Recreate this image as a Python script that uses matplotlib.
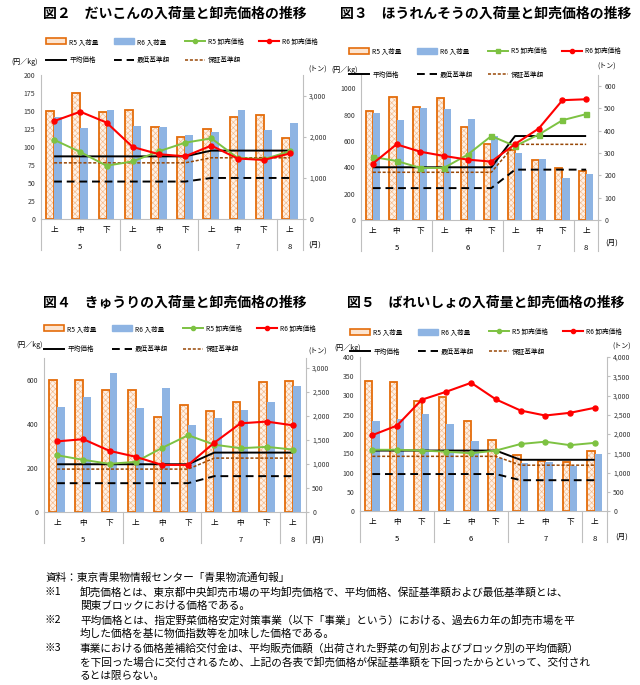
import matplotlib
matplotlib.use('Agg')
import matplotlib.pyplot as plt
from matplotlib.lines import Line2D
from matplotlib.patches import Patch
import matplotlib.transforms as mtransforms
from matplotlib.ticker import FuncFormatter, MultipleLocator

plt.rcParams['font.family'] = ['Noto Sans CJK JP', 'DejaVu Sans']
plt.rcParams['hatch.linewidth'] = 0.45

# ---------------- data ----------------
categories = ['上', '中', '下', '上', '中', '下', '上', '中', '下', '上']
months = ['5', '6', '7', '8']
month_centers = [1, 4, 7, 9]
month_bounds = [-0.5, 2.5, 5.5, 8.5, 9.5]

legend_labels = ['R5 入荷量', 'R6 入荷量', 'R5 卸売価格', 'R6 卸売価格',
                 '平均価格', '最低基準額', '保証基準額']

# 図2 だいこん
daikon_r5_vol = [2616, 3059, 2590, 2643, 2233, 2004, 2184, 2478, 2538, 1971]
daikon_r6_vol = [2485, 2205, 2660, 2258, 2233, 2044, 2126, 2660, 2153, 2328]
daikon_r5_price = [110, 93, 74, 80, 94, 106, 112, 85, 83, 94]
daikon_r6_price = [136, 149, 134, 100, 90, 87, 102, 84, 82, 91]
daikon_avg = [87, 87, 87, 87, 87, 87, 95, 95, 95, 95]
daikon_min = [52, 52, 52, 52, 52, 52, 57, 57, 57, 57]
daikon_guar = [78, 78, 78, 78, 78, 78, 85, 85, 85, 85]

# 図3 ほうれんそう
spin_r5_vol = [489, 552, 505, 549, 415, 340, 315, 269, 231, 218]
spin_r6_vol = [480, 447, 504, 496, 451, 377, 301, 272, 188, 204]
spin_r5_price = [478, 448, 395, 395, 496, 637, 561, 648, 757, 803]
spin_r6_price = [428, 574, 518, 486, 458, 443, 576, 694, 909, 916]
spin_avg = [400, 400, 400, 400, 400, 400, 637, 637, 637, 637]
spin_min = [242, 242, 242, 242, 242, 242, 382, 382, 382, 382]
spin_guar = [362, 362, 362, 362, 362, 362, 574, 574, 574, 574]

# 図4 きゅうり
cuc_r5_vol = [2743, 2743, 2537, 2537, 1966, 2231, 2089, 2286, 2692, 2729]
cuc_r6_vol = [2176, 2381, 2889, 2167, 2569, 1810, 1947, 2121, 2286, 2610]
cuc_r5_price = [258, 237, 219, 228, 291, 349, 306, 290, 296, 284]
cuc_r6_price = [321, 331, 278, 251, 214, 214, 315, 403, 411, 394]
cuc_avg = [217, 217, 217, 217, 217, 217, 270, 270, 270, 270]
cuc_min = [131, 131, 131, 131, 131, 131, 163, 163, 163, 163]
cuc_guar = [195, 195, 195, 195, 195, 195, 245, 245, 245, 245]

# 図5 ばれいしょ
pot_r5_vol = [3380, 3360, 2870, 2950, 2345, 1835, 1460, 1300, 1270, 1570]
pot_r6_vol = [2330, 2390, 2520, 2260, 1820, 1380, 1240, 1280, 1170, 1490]
pot_r5_price = [159, 159, 157, 154, 150, 157, 174, 180, 171, 177]
pot_r6_price = [197, 222, 289, 310, 333, 290, 261, 248, 255, 268]
pot_avg = [157, 157, 157, 157, 157, 157, 133, 133, 133, 133]
pot_min = [96, 96, 96, 96, 96, 96, 80, 80, 80, 80]
pot_guar = [142, 142, 142, 142, 142, 142, 119, 119, 119, 119]

notes = [
    (45, 578, '資料：東京青果物情報センター「青果物流通旬報」'),
    (45, 592, '※1'),
    (80, 592, '卸売価格とは、東京都中央卸売市場の平均卸売価格で、平均価格、保証基準額および最低基準額とは、'),
    (80, 606, '関東ブロックにおける価格である。'),
    (45, 620, '※2'),
    (80, 620, '平均価格とは、指定野菜価格安定対策事業（以下「事業」という）における、過去6カ年の卸売市場を平'),
    (80, 634, '均した価格を基に物価指数等を加味した価格である。'),
    (45, 648, '※3'),
    (80, 648, '事業における価格差補給交付金は、平均販売価額（出荷された野菜の旬別およびブロック別の平均価額）'),
    (80, 662, 'を下回った場合に交付されるため、上記の各表で卸売価格が保証基準額を下回ったからといって、交付され'),
    (80, 676, 'るとは限らない。'),
]

# ---------------- styling ----------------
W, H = 640, 685
fig = plt.figure(figsize=(6.4, 6.85), dpi=100)

C_R5_EDGE = '#E46C0A'
C_R5_FILL = '#FEF1E6'
C_R5_HATCH = '#F4B98A'
C_R6 = '#8EB4E3'
C_GREEN = '#7DC242'
C_RED = '#FF0000'
C_BROWN = '#984807'
C_AX = '#BFBFBF'


def rect(x0, y0, x1, y1):
    return [x0 / W, 1 - y1 / H, (x1 - x0) / W, (y1 - y0) / H]


def comma(v, p):
    return f'{int(round(v)):,}'


def panel(title, title_xy, box, r5v, r6v, r5p, r6p, avg, mn, guar,
          lmax, lstep, rmax, rstep, rcomma, green_marker,
          legend_xy, legend_sp, lunit_xy, runit_xy, month_xy):
    ax = fig.add_axes(rect(*box))
    ax2 = ax.twinx()
    ax.set_zorder(ax2.get_zorder() + 1)
    ax.patch.set_visible(False)
    x = list(range(len(categories)))
    xl = [i - 0.15 for i in x]
    xr = [i + 0.15 for i in x]

    ax2.bar(xl, r5v, width=0.3, facecolor=C_R5_FILL, edgecolor=C_R5_HATCH,
            hatch='xxxxxx', linewidth=0)
    ax2.bar(xl, r5v, width=0.3, fill=False, edgecolor=C_R5_EDGE, linewidth=1.3)
    ax2.bar(xr, r6v, width=0.3, color=C_R6, linewidth=0)

    ax.plot(x, avg, color='black', lw=1.4, solid_capstyle='butt')
    ax.plot(x, mn, color='black', lw=1.4, ls=(0, (4, 2.5)))
    ax.plot(x, guar, color=C_BROWN, lw=1.1, ls=(0, (2, 1.2)))
    ax.plot(x, r5p, color=C_GREEN, lw=1.4, marker=green_marker, ms=3.6)
    ax.plot(x, r6p, color=C_RED, lw=1.5, marker='o', ms=3.6)

    ax.set_xlim(-0.5, 9.5)
    ax.set_ylim(0, lmax)
    ax2.set_ylim(0, rmax)
    ax.yaxis.set_major_locator(MultipleLocator(lstep))
    ax2.yaxis.set_major_locator(MultipleLocator(rstep))
    if rcomma:
        ax2.yaxis.set_major_formatter(FuncFormatter(comma))
    else:
        ax2.yaxis.set_major_formatter(FuncFormatter(lambda v, p: f'{int(round(v))}'))
    ax.yaxis.set_major_formatter(FuncFormatter(lambda v, p: f'{int(round(v))}'))

    for s in ['top', 'right']:
        ax.spines[s].set_visible(False)
    for s in ['top', 'left', 'bottom']:
        ax2.spines[s].set_visible(False)
    ax.spines['left'].set_color(C_AX)
    ax.spines['bottom'].set_color(C_AX)
    ax2.spines['right'].set_color(C_AX)
    ax.tick_params(axis='y', length=0, labelsize=5, pad=4, labelcolor='#333333')
    ax2.tick_params(axis='y', length=2.5, labelsize=5, pad=2, color=C_AX,
                    labelcolor='#333333')
    ax.set_xticks(x)
    ax.set_xticklabels(categories, fontsize=5.5)
    ax.tick_params(axis='x', length=0, pad=5)

    bh = box[3] - box[1]
    trans = mtransforms.blended_transform_factory(ax.transData, ax.transAxes)
    for xb in month_bounds:
        ax.plot([xb, xb], [0, -31 / bh], transform=trans, color=C_AX,
                lw=0.8, clip_on=False)
    for c, m in zip(month_centers, months):
        ax.text(c, -28 / bh, m, transform=trans, ha='center', va='center',
                fontsize=5.5)

    fig.text(title_xy[0] / W, 1 - title_xy[1] / H, title, ha='center',
             va='center', fontsize=10, fontweight='bold')
    fig.text(lunit_xy[0] / W, 1 - lunit_xy[1] / H, '(円／kg)', ha='center',
             va='center', fontsize=5)
    fig.text(runit_xy[0] / W, 1 - runit_xy[1] / H, '(トン)', ha='center',
             va='center', fontsize=5)
    fig.text(month_xy[0] / W, 1 - month_xy[1] / H, '(月)', ha='center',
             va='center', fontsize=5.5)

    handles = [
        Patch(facecolor='#FCE4D0', edgecolor=C_R5_EDGE, linewidth=1.2),
        Patch(facecolor=C_R6, edgecolor=C_R6),
        Line2D([], [], color=C_GREEN, lw=1.4, marker=green_marker, ms=3),
        Line2D([], [], color=C_RED, lw=1.5, marker='o', ms=3),
        Line2D([], [], color='black', lw=1.4),
        Line2D([], [], color='black', lw=1.4, ls=(0, (4, 2.5))),
        Line2D([], [], color=C_BROWN, lw=1.1, ls=(0, (2, 1.2))),
    ]
    order = [0, 4, 1, 5, 2, 6, 3]
    fig.legend([handles[i] for i in order], [legend_labels[i] for i in order],
               ncol=4, loc='center',
               bbox_to_anchor=(legend_xy[0] / W, 1 - legend_xy[1] / H),
               frameon=False, fontsize=4.8, handlelength=3.0,
               handleheight=1.0, handletextpad=0.5, columnspacing=2.2,
               labelspacing=legend_sp, borderpad=0)
    return ax, ax2


panel('図２　だいこんの入荷量と卸売価格の推移', (175, 14), (41, 75, 303, 219),
      daikon_r5_vol, daikon_r6_vol, daikon_r5_price, daikon_r6_price,
      daikon_avg, daikon_min, daikon_guar,
      200, 25, 3500, 1000, True, 'o',
      (182, 51), 1.6, (25, 62), (318, 70), (315, 245))

panel('図３　ほうれんそうの入荷量と卸売価格の推移', (486, 14), (361, 75, 598, 220),
      spin_r5_vol, spin_r6_vol, spin_r5_price, spin_r6_price,
      spin_avg, spin_min, spin_guar,
      1100, 200, 650, 100, False, 's',
      (485, 63), 2.3, (345, 70), (607, 67), (612, 243))

panel('図４　きゅうりの入荷量と卸売価格の推移', (175, 302), (44, 358, 306, 512),
      cuc_r5_vol, cuc_r6_vol, cuc_r5_price, cuc_r6_price,
      cuc_avg, cuc_min, cuc_guar,
      700, 200, 3200, 500, True, 'o',
      (180, 339), 1.9, (30, 345), (318, 352), (318, 540))

panel('図５　ばれいしょの入荷量と卸売価格の推移', (486, 303), (360, 357, 607, 511),
      pot_r5_vol, pot_r6_vol, pot_r5_price, pot_r6_price,
      pot_avg, pot_min, pot_guar,
      400, 50, 4000, 500, True, 'o',
      (486, 342), 1.8, (348, 348), (622, 347), (622, 537))

for nx, ny, t in notes:
    fig.text(nx / W, 1 - ny / H, t, ha='left', va='center', fontsize=7.7)

fig.savefig('out.png', dpi=100, facecolor='white')
